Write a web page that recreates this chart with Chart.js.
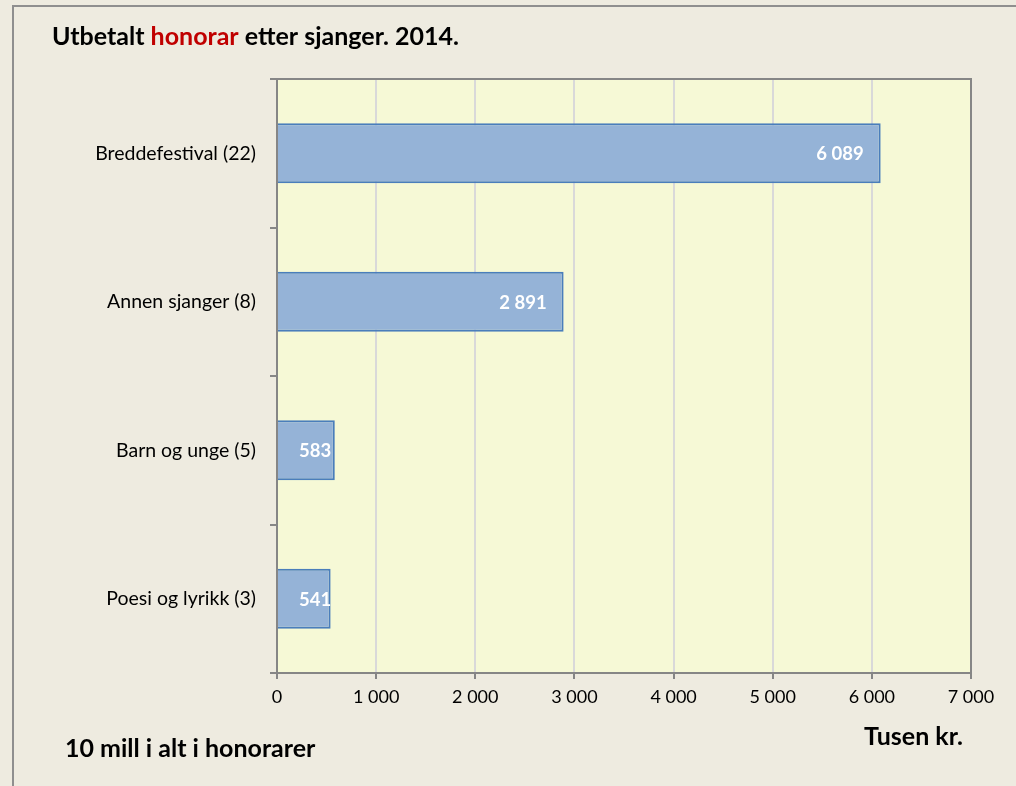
<!DOCTYPE html>
<html>
<head>
<meta charset="utf-8">
<script src="https://cdn.jsdelivr.net/npm/chart.js@4/dist/chart.umd.min.js"></script>
<style>
  html, body { margin: 0; padding: 0; background: #eeebe0; }
  #wrap { position: relative; width: 1016px; height: 786px; }
</style>
</head>
<body>
<div id="wrap"><canvas id="chart" width="1016" height="786"></canvas></div>
<script>
// ---------- Data ---------- //
const categories = ['Breddefestival (22)', 'Annen sjanger (8)', 'Barn og unge (5)', 'Poesi og lyrikk (3)'];
const honorar = [6089, 2891, 583, 541];
const xTicks = [0, 1000, 2000, 3000, 4000, 5000, 6000, 7000];

const FONT = 'Lato, Carlito, Calibri, sans-serif';

function fmt(n) {
  return String(n).replace(/\B(?=(\d{3})+(?!\d))/g, ' ');
}

// Background, frame, plot area fill and texts
const framePlugin = {
  id: 'frame',
  beforeDraw(chart) {
    const { ctx, chartArea: a } = chart;
    ctx.save();
    ctx.fillStyle = '#eeebe0';
    ctx.fillRect(0, 0, chart.width, chart.height);
    ctx.strokeStyle = '#8f8f8f';
    ctx.lineWidth = 2;
    ctx.strokeRect(13, 6, chart.width + 20, chart.height + 20);
    ctx.fillStyle = '#f6f9d6';
    ctx.fillRect(a.left, a.top, a.right - a.left, a.bottom - a.top);
    ctx.restore();
  },
  afterDraw(chart) {
    const { ctx, chartArea: a } = chart;
    ctx.save();
    ctx.strokeStyle = '#868686';
    ctx.lineWidth = 2;
    ctx.beginPath();
    ctx.moveTo(a.left, a.top);
    ctx.lineTo(a.right, a.top);
    ctx.lineTo(a.right, a.bottom);
    ctx.stroke();

    // title with red word
    ctx.font = 'bold 25px ' + FONT;
    ctx.textBaseline = 'alphabetic';
    ctx.textAlign = 'left';
    let x = 52;
    const parts = [['Utbetalt ', '#000'], ['honorar', '#c00000'], [' etter sjanger. 2014.', '#000']];
    parts.forEach(([t, c]) => {
      ctx.fillStyle = c;
      ctx.fillText(t, x, 45);
      x += ctx.measureText(t).width;
    });

    ctx.fillStyle = '#000';
    ctx.fillText('10 mill i alt i honorarer', 65, 757);
    ctx.textAlign = 'right';
    ctx.fillText('Tusen kr.', 963, 745);
    ctx.restore();
  }
};

// Value labels inside bar ends
const labelPlugin = {
  id: 'barLabels',
  afterDatasetsDraw(chart) {
    const { ctx } = chart;
    const meta = chart.getDatasetMeta(0);
    ctx.save();
    ctx.font = 'bold 18.5px ' + FONT;
    ctx.fillStyle = '#ffffff';
    ctx.textBaseline = 'middle';
    meta.data.forEach((bar, i) => {
      const txt = fmt(honorar[i]);
      const w = ctx.measureText(txt).width;
      let left = bar.x - 17 - w;
      if (left < bar.base + 21) left = bar.base + 21;
      ctx.textAlign = 'left';
      ctx.fillText(txt, left, bar.y + 1);
    });
    ctx.restore();
  }
};

new Chart(document.getElementById('chart'), {
  type: 'bar',
  data: {
    labels: categories,
    datasets: [{
      data: honorar,
      backgroundColor: '#95b3d7',
      borderColor: '#4a7ebb',
      borderWidth: 2,
      borderSkipped: 'left',
      categoryPercentage: 1,
      barPercentage: 0.405
    }]
  },
  options: {
    indexAxis: 'y',
    responsive: false,
    animation: false,
    layout: { padding: { left: 0, top: 79, right: 45, bottom: 73 } },
    plugins: {
      legend: { display: false },
      tooltip: { enabled: false }
    },
    scales: {
      x: {
        min: 0,
        max: 7000,
        afterBuildTicks(scale) { scale.ticks = xTicks.map(v => ({ value: v })); },
        afterFit(scale) { scale.height = 40; },
        grid: { color: '#d9d9d9', lineWidth: 2, tickLength: 6, tickColor: '#868686', tickWidth: 2 },
        border: { color: '#868686', width: 2 },
        ticks: {
          color: '#000',
          padding: 7,
          font: { family: FONT, size: 18 },
          callback: v => fmt(v)
        }
      },
      y: {
        afterFit(scale) { scale.width = 277; },
        grid: { offset: true, drawOnChartArea: false, tickLength: 7, color: '#868686', lineWidth: 2 },
        border: { color: '#868686', width: 2 },
        ticks: {
          color: '#000',
          padding: 14,
          font: { family: FONT, size: 19.5 }
        }
      }
    }
  },
  plugins: [framePlugin, labelPlugin]
});
</script>
</body>
</html>
